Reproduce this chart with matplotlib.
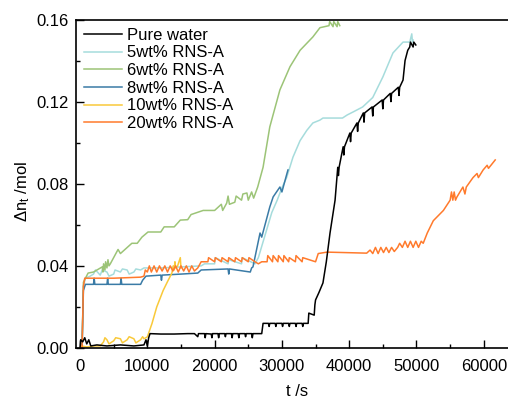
import matplotlib
matplotlib.use("Agg")
import matplotlib.pyplot as plt
from matplotlib.ticker import MultipleLocator, FormatStrFormatter

plt.rcParams['font.family'] = ['Liberation Sans', 'DejaVu Sans']
plt.rcParams['mathtext.fontset'] = 'custom'
plt.rcParams['mathtext.rm'] = 'Liberation Sans'
plt.rcParams['mathtext.it'] = 'Liberation Sans'

labels = ["Pure water", "5wt% RNS-A", "6wt% RNS-A", "8wt% RNS-A", "10wt% RNS-A", "20wt% RNS-A"]
colors = ["#000000", "#a6dcdc", "#9cc477", "#3a7ba6", "#f9c93a", "#ff7a2c"]

# (t in s, delta n in mol)
water = [(0, 0.0), (100, 0.004), (400, 0.003), (700, 0.005), (1000, 0.002), (1300, 0.004), (1600, 0.001),
         (2500, 0.0015), (4000, 0.001), (6000, 0.0015), (8000, 0.001), (9500, 0.0015), (9800, 0.004),
         (10000, 0.001), (10200, 0.005), (10400, 0.007), (12000, 0.0068), (14000, 0.0068), (16000, 0.007),
         (17000, 0.007), (17500, 0.0055), (17600, 0.007), (18500, 0.007), (18600, 0.005), (18700, 0.007),
         (19500, 0.0068), (19600, 0.005), (19700, 0.007), (20500, 0.007), (20600, 0.005), (20700, 0.007),
         (21500, 0.007), (21600, 0.0055), (21700, 0.007), (22500, 0.007), (22600, 0.005), (22700, 0.007),
         (23500, 0.007), (23600, 0.005), (23700, 0.007), (24500, 0.007), (24600, 0.0055), (24700, 0.007),
         (25500, 0.007), (25600, 0.005), (25700, 0.007), (26500, 0.007), (27000, 0.007), (27200, 0.012),
         (28000, 0.012), (28100, 0.0105), (28200, 0.012), (29000, 0.012), (29100, 0.0105), (29200, 0.012),
         (30000, 0.012), (30100, 0.0105), (30200, 0.012), (31000, 0.012), (31100, 0.0105), (31200, 0.012),
         (32000, 0.012), (32100, 0.0105), (32200, 0.012), (33000, 0.012), (33100, 0.0105), (33200, 0.012),
         (33900, 0.012), (34000, 0.017), (34800, 0.016), (34900, 0.021), (35000, 0.0234), (35500, 0.027),
         (36100, 0.0317), (36600, 0.042), (37150, 0.056), (37900, 0.072), (38300, 0.088), (38400, 0.084),
         (38500, 0.088), (39100, 0.098), (39200, 0.094), (39300, 0.098), (40100, 0.1047), (40200, 0.1005),
         (40300, 0.1047), (41150, 0.1096), (41250, 0.1055), (41350, 0.1096), (42100, 0.1145), (42200, 0.110),
         (42300, 0.1145), (43400, 0.1174), (43500, 0.113), (43600, 0.1174), (44900, 0.1208), (45000, 0.1165),
         (45100, 0.1208), (46100, 0.124), (46200, 0.120), (46300, 0.124), (47300, 0.127), (47400, 0.123),
         (47500, 0.127), (48000, 0.1305), (48300, 0.140), (48700, 0.145), (49000, 0.1466), (49100, 0.149),
         (49500, 0.1466), (49600, 0.149), (49900, 0.1476)]

rns5 = [(0, 0.0), (300, 0.0), (500, 0.030), (800, 0.034), (1500, 0.035), (2000, 0.036), (2300, 0.038),
        (3000, 0.0355), (3300, 0.038), (4000, 0.037), (4300, 0.035), (5000, 0.036), (5200, 0.038),
        (6000, 0.037), (6300, 0.0385), (7000, 0.038), (7300, 0.036), (8000, 0.037), (8300, 0.0385),
        (9000, 0.038), (9500, 0.039), (12000, 0.039), (15000, 0.0395), (18000, 0.040), (18500, 0.041),
        (20000, 0.041), (20100, 0.044), (22000, 0.041), (22100, 0.043), (24000, 0.041), (24100, 0.044),
        (26000, 0.041), (26500, 0.044), (27500, 0.055), (28500, 0.066), (29300, 0.072), (30000, 0.078),
        (30700, 0.083), (31650, 0.093), (32700, 0.101), (33700, 0.106), (34600, 0.1096), (35650, 0.111),
        (36100, 0.112), (39000, 0.112), (39700, 0.1135), (40600, 0.115), (42000, 0.1174), (43500, 0.122),
        (45000, 0.132), (46500, 0.1437), (48000, 0.149), (49000, 0.149), (49300, 0.153), (49400, 0.149),
        (49500, 0.150)]

rns6 = [(0, 0.0), (300, 0.0), (500, 0.032), (800, 0.034), (1200, 0.0365), (2000, 0.037), (3300, 0.0395),
        (3400, 0.037), (3500, 0.041), (3700, 0.038), (3800, 0.042), (4000, 0.039), (4150, 0.043),
        (4300, 0.040), (4500, 0.041), (5650, 0.048), (6000, 0.046), (7700, 0.051), (8500, 0.051),
        (9200, 0.054), (10100, 0.0565), (12000, 0.0565), (12500, 0.059), (14000, 0.059), (14900, 0.0623),
        (16000, 0.0625), (16500, 0.065), (18300, 0.067), (20000, 0.067), (21000, 0.070), (21200, 0.067),
        (21800, 0.0706), (22000, 0.074), (22200, 0.070), (23000, 0.071), (23200, 0.074), (24000, 0.072),
        (24200, 0.075), (24800, 0.0755), (25000, 0.072), (25500, 0.076), (25800, 0.073), (26400, 0.0784),
        (27200, 0.088), (28200, 0.1077), (29700, 0.1257), (31200, 0.137), (32700, 0.145), (34600, 0.1515),
        (35650, 0.156), (37000, 0.157), (37100, 0.159), (37600, 0.1565), (37700, 0.159), (38200, 0.1565),
        (38300, 0.159), (38600, 0.157)]

rns8 = [(0, 0.0), (300, 0.0), (500, 0.028), (800, 0.031), (2000, 0.031), (2100, 0.034), (2200, 0.031),
        (4000, 0.031), (4100, 0.034), (4200, 0.031), (6000, 0.031), (6100, 0.034), (6200, 0.031),
        (9000, 0.031), (9300, 0.033), (9800, 0.035), (12000, 0.0355), (12100, 0.033), (12200, 0.0355),
        (15000, 0.036), (17500, 0.0365), (18000, 0.038), (22000, 0.0385), (22100, 0.036), (22200, 0.0385),
        (25300, 0.037), (25500, 0.039), (25700, 0.0395), (26750, 0.056), (27000, 0.054), (28200, 0.0687),
        (28700, 0.0736), (29700, 0.0784), (30000, 0.076), (30750, 0.085), (30900, 0.0867)]

rns10 = [(0, 0.0), (200, 0.001), (1000, 0.0005), (2000, 0.001), (3000, 0.001), (3500, 0.003), (3700, 0.005),
         (4000, 0.004), (4300, 0.002), (5000, 0.0035), (5300, 0.005), (6000, 0.0045), (6300, 0.0025),
         (7000, 0.004), (7300, 0.0055), (8000, 0.0045), (8300, 0.0025), (9000, 0.004), (9300, 0.0055),
         (9500, 0.0045), (10000, 0.0054), (10700, 0.012), (11400, 0.020), (12350, 0.028), (13100, 0.033),
         (13650, 0.0365), (13850, 0.040), (14000, 0.038), (14100, 0.042), (14200, 0.039), (14500, 0.040),
         (14900, 0.044), (15000, 0.039)]

rns20 = [(0, 0.0), (300, 0.0), (500, 0.030), (700, 0.034), (5000, 0.034), (9000, 0.0345), (9500, 0.035),
         (9700, 0.038), (10000, 0.037), (10300, 0.040), (10600, 0.037), (11000, 0.040), (11400, 0.037),
         (11800, 0.040), (12200, 0.0375), (12600, 0.040), (13000, 0.037), (13400, 0.040), (13800, 0.0375),
         (14200, 0.040), (14600, 0.037), (15000, 0.040), (15400, 0.0375), (15800, 0.040), (16200, 0.037),
         (16600, 0.040), (17000, 0.0375), (17500, 0.039), (18000, 0.042), (19000, 0.042), (19100, 0.044),
         (20000, 0.042), (20100, 0.044), (21000, 0.042), (21100, 0.044), (22000, 0.042), (22100, 0.044),
         (23000, 0.042), (23100, 0.044), (24000, 0.042), (24100, 0.044), (25000, 0.042), (25100, 0.044),
         (26000, 0.042), (26500, 0.041), (27000, 0.042), (27800, 0.042), (27900, 0.045), (28600, 0.042),
         (28700, 0.045), (29400, 0.042), (29500, 0.045), (30200, 0.042), (30300, 0.045), (31000, 0.042),
         (31100, 0.044), (32000, 0.042), (32100, 0.045), (33000, 0.042), (33100, 0.044), (35000, 0.042),
         (35400, 0.046), (36700, 0.0467), (42600, 0.0462), (43100, 0.0477), (43500, 0.046), (43900, 0.049),
         (44300, 0.046), (44700, 0.049), (45100, 0.0465), (45500, 0.049), (45900, 0.0465), (46300, 0.049),
         (46700, 0.047), (47200, 0.049), (47500, 0.051), (47900, 0.049), (48300, 0.052), (48700, 0.049),
         (49100, 0.052), (49500, 0.049), (49900, 0.052), (50300, 0.049), (50700, 0.052), (51000, 0.051),
         (51600, 0.056), (52500, 0.062), (54000, 0.067), (55000, 0.072), (55200, 0.076), (55400, 0.072),
         (55600, 0.076), (55800, 0.072), (56000, 0.0735), (56900, 0.0784), (57200, 0.075), (57400, 0.0784),
         (58400, 0.083), (59000, 0.085), (59200, 0.083), (59900, 0.0867), (60500, 0.089), (60700, 0.0875),
         (61700, 0.0916)]

series = [water, rns5, rns6, rns8, rns10, rns20]

fig = plt.figure(figsize=(5.08, 3.98), dpi=100)
ax = fig.add_axes([76 / 508, 1 - 348 / 398, 432 / 508, 328.5 / 398])

draw_order = [1, 2, 3, 4, 5, 0]
lines = {}
for i in draw_order:
    t, y = zip(*series[i])
    ln, = ax.plot(t, y, color=colors[i], lw=1.1, label=labels[i])
    lines[i] = ln

ax.set_xlim(-600, 63600)
ax.set_ylim(0, 0.16)
ax.xaxis.set_major_locator(MultipleLocator(10000))
ax.xaxis.set_minor_locator(MultipleLocator(5000))
ax.yaxis.set_major_locator(MultipleLocator(0.04))
ax.yaxis.set_minor_locator(MultipleLocator(0.02))
ax.yaxis.set_major_formatter(FormatStrFormatter('%.2f'))
ax.tick_params(which='both', direction='in', width=1.0, labelsize=12)
ax.tick_params(which='major', length=6)
ax.tick_params(which='minor', length=3)
ax.tick_params(axis='x', which='major', pad=8)
ax.tick_params(axis='y', which='major', pad=5.5)
ax.spines['right'].set_visible(False)
for s in ['left', 'bottom', 'top']:
    ax.spines[s].set_linewidth(1.2)

ax.set_xlabel('t /s', fontsize=12)
ax.set_ylabel(r'$\Delta$n$_\mathregular{t}$ /mol', fontsize=12)
ax.xaxis.set_label_coords((297 - 76) / 432, -0.110)
ax.yaxis.set_label_coords(-0.102, 0.476)

handles = [lines[i] for i in range(6)]
ax.legend(handles, labels, loc='upper left', bbox_to_anchor=(0.01, 0.985), frameon=False, fontsize=12,
          handlelength=2.3, handletextpad=0.3, labelspacing=0.16, borderpad=0.2, borderaxespad=0)

fig.savefig('out.png', dpi=100)
